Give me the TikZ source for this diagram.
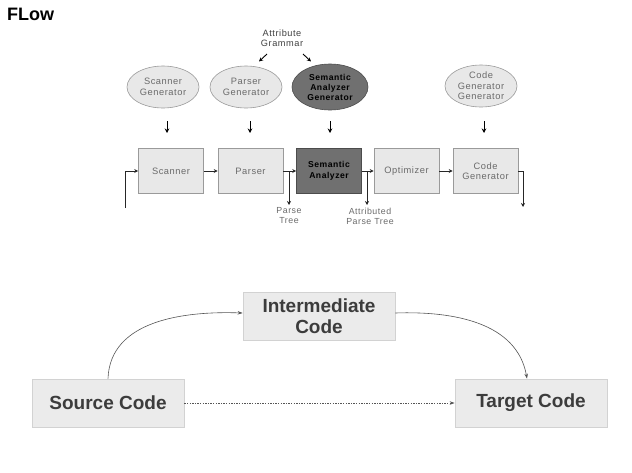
\documentclass[tikz,border=0pt]{standalone}
\usepackage{fontspec}
\setmainfont{Liberation Sans}
\newfontfamily\smallsf[LetterSpace=6]{Liberation Sans}
\usetikzlibrary{shapes.geometric,arrows.meta}
\definecolor{lightfill}{HTML}{E8E8E8}
\definecolor{lightedge}{HTML}{9A9A9A}
\definecolor{darkfill}{HTML}{707070}
\definecolor{smalltext}{HTML}{6A6A6A}
\definecolor{bigfill}{HTML}{EBEBEB}
\definecolor{bigedge}{HTML}{D2D2D2}
\definecolor{bigtext}{HTML}{3C3C3C}
\definecolor{linecol}{HTML}{555555}
\begin{document}
\begin{tikzpicture}[x=1pt,y=-1pt,
  smallfont/.style={font=\smallsf\fontsize{9.3}{10.5}\selectfont},
  gen/.style={ellipse, draw=lightedge, fill=lightfill, line width=0.6pt,
    minimum width=72pt, minimum height=42pt, inner sep=0pt, align=center,
    smallfont, text=smalltext},
  darkgen/.style={gen, fill=darkfill, draw=black!70, minimum width=76pt,
    minimum height=46pt, text=black, font=\smallsf\bfseries\fontsize{8.6}{10}\selectfont},
  stagebox/.style={draw=lightedge, fill=lightfill, line width=0.6pt,
    minimum width=65pt, minimum height=45pt, inner sep=1pt, align=center,
    smallfont, text=smalltext},
  darkbox/.style={stagebox, fill=darkfill, draw=black!70, text=black,
    font=\smallsf\bfseries\fontsize{8.6}{10.5}\selectfont},
  lbl/.style={font=\smallsf\fontsize{8.8}{10}\selectfont, text=smalltext, align=center, inner sep=0pt},
  conn/.style={draw=black!85, line width=0.8pt, -{Stealth[length=4pt,width=4pt]}},
  downarr/.style={draw=black, line width=1pt, -{Stealth[length=4.5pt,width=4.5pt]}},
  bigbox/.style={draw=bigedge, fill=bigfill, line width=0.8pt,
    minimum width=152pt, minimum height=48pt, align=center,
    font=\bfseries\fontsize{19}{21}\selectfont, text=bigtext},
  bigarr/.style={draw=linecol, line width=0.6pt, -{Stealth[length=5pt,width=3.5pt]}}
]
\useasboundingbox (0,0) rectangle (632,472);

% title
\node[anchor=base west, inner sep=0pt, font=\bfseries\fontsize{18}{20}\selectfont] (title) at (7,20) {FLow};

% attribute grammar
\node[lbl, font=\smallsf\fontsize{9.2}{10.5}\selectfont, text=black!75] (ag) at (282,38) {Attribute\\Grammar};
\coordinate (a1s) at (267,54);
\coordinate (a1e) at (259,61.5);
\coordinate (a2s) at (303,54);
\coordinate (a2e) at (311,61.5);
\draw[downarr, line width=0.9pt, -{Stealth[length=4pt,width=4pt]}] (a1s) -- (a1e);
\draw[downarr, line width=0.9pt, -{Stealth[length=4pt,width=4pt]}] (a2s) -- (a2e);

% generators
\node[gen] (sg) at (163,87) {Scanner\\Generator};
\node[gen] (pg) at (246,87) {Parser\\Generator};
\node[darkgen] (sag) at (330,87) {Semantic\\Analyzer\\Generator};
\node[gen] (cgg) at (481,86) {Code\\Generator\\Generator};

% small down arrows
\foreach \n/\x in {d1/167,d2/250,d3/330,d4/484}{
  \coordinate (\n s) at (\x,121);
  \coordinate (\n e) at (\x,133);
  \draw[downarr] (\n s) -- (\n e);
}

% stages
\node[stagebox] (scan) at (171,171) {Scanner};
\node[stagebox] (pars) at (250.5,171) {Parser};
\node[darkbox] (sem) at (329,171) {Semantic\\Analyzer};
\node[stagebox] (opt) at (406.5,171) {Optimizer};
\node[stagebox] (cg) at (485.5,171) {Code\\Generator};

\coordinate (in0) at (125,208);
\draw[conn] (in0) |- (scan.west);
\draw[conn] (scan) -- (pars);
\draw[conn] (pars) -- (sem);
\draw[conn] (sem) -- (opt);
\draw[conn] (opt) -- (cg);
\coordinate (outc) at (523,207);
\draw[conn] (cg.east) -| (outc);

\coordinate (ptb) at (289,171);
\coordinate (pte) at (289,205);
\draw[conn] (ptb) -- (pte);
\node[lbl] (ptl) at (289,216) {Parse\\Tree};
\coordinate (aptb) at (367,171);
\coordinate (apte) at (367,205);
\draw[conn] (aptb) -- (apte);
\node[lbl] (aptl) at (370,216) {Attributed\\Parse Tree};

% bottom diagram
\node[bigbox] (src) at (108,403) {Source Code};
\node[bigbox] (int) at (319,316) {Intermediate\\Code};
\node[bigbox] (tgt) at (531,403) {Target Code};

\draw[bigarr] (src.north) to[out=88, in=178] ([yshift=3pt]int.west);
\draw[bigarr] ([yshift=3pt]int.east) to[out=2, in=100] ([xshift=-4pt]tgt.north);
\draw[bigarr, dash pattern=on 1.3pt off 1.3pt] (src.east) -- (tgt.west);
\end{tikzpicture}
\end{document}
